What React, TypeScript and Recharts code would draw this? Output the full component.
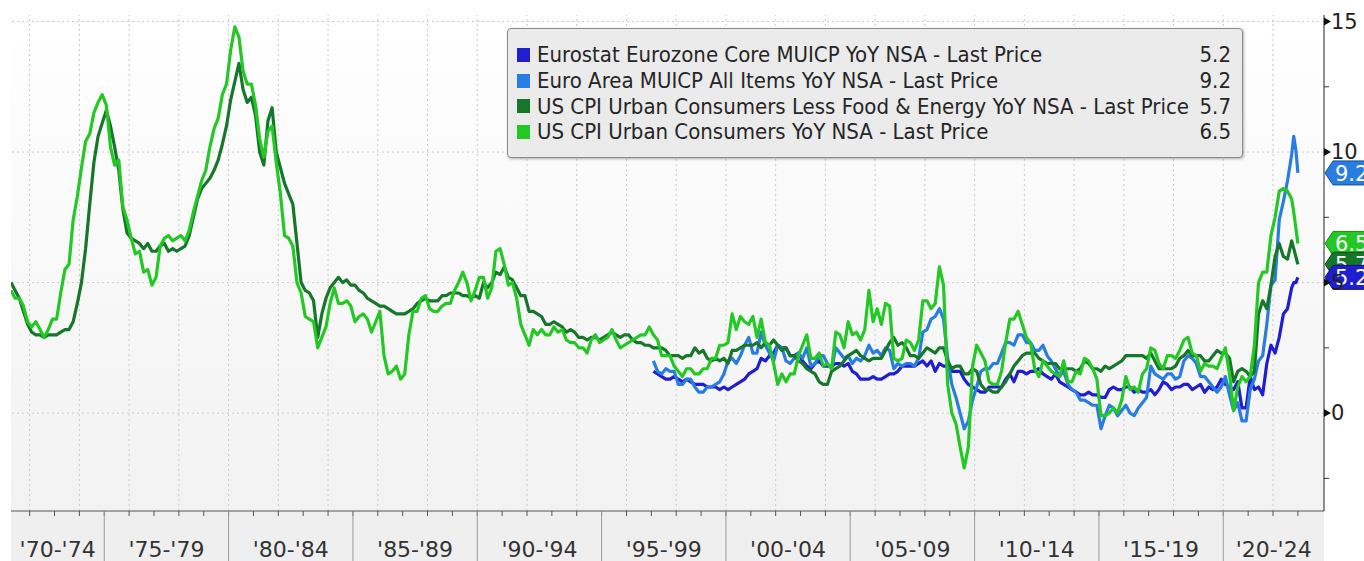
import React from "react";
import {
  CartesianGrid,
  Legend,
  Line,
  LineChart,
  ReferenceLine,
  XAxis,
  YAxis,
} from "recharts";

const FONT = '"DejaVu Sans Condensed", "DejaVu Sans", sans-serif';
const AXIS_FONT = '"DejaVu Sans", sans-serif';

// sampling: every other month, monthly at the very end
const firstYearMonths = [3, 5, 7, 9, 11];
const yearMonths = [1, 3, 5, 7, 9, 11];
const lastYearMonths = [1, 3, 5, 7, 9, 10, 11, 12];

const dates: number[] = [];
for (let y = 1971; y <= 2022; y++) {
  const ms = y === 1971 ? firstYearMonths : y === 2022 ? lastYearMonths : yearMonths;
  for (const m of ms) dates.push(y + m / 12);
}

// US CPI Urban Consumers YoY, Mar 1971 - Dec 2022
const usCpi = [
  4.7, 4.4, 4.4, 4.1, 3.5,
  3.3, 3.5, 3.2, 2.9, 3.2, 3.6,
  3.6, 4.6, 5.5, 5.7, 7.4, 8.3,
  9.4, 10.4, 10.7, 11.5, 11.9, 12.2,
  11.8, 10.2, 9.5, 9.7, 7.9, 7.4,
  6.7, 6.1, 6.2, 5.4, 5.5, 4.9,
  5.2, 6.4, 6.7, 6.8, 6.6, 6.7,
  6.8, 6.6, 7.0, 7.7, 8.3, 8.9,
  9.3, 10.2, 10.9, 11.3, 12.2, 12.6,
  13.9, 14.8, 14.4, 13.1, 12.6, 12.6,
  11.8, 10.5, 9.8, 10.8, 11.0, 9.6,
  8.4, 6.8, 6.7, 6.4, 5.0, 4.6,
  3.7, 3.6, 3.5, 2.5, 2.9, 3.3,
  4.2, 4.8, 4.2, 4.2, 4.3, 4.1,
  3.5, 3.7, 3.8, 3.6, 3.1, 3.5,
  3.9, 2.2, 1.5, 1.6, 1.8, 1.3,
  1.5, 3.0, 3.9, 3.9, 4.4, 4.5,
  4.0, 3.9, 3.9, 4.1, 4.2, 4.2,
  4.7, 5.0, 5.4, 5.0, 4.3, 4.7,
  5.2, 5.2, 4.4, 4.8, 6.2, 6.3,
  5.7, 4.9, 5.0, 4.4, 3.4, 3.0,
  2.6, 3.2, 3.0, 3.2, 3.0, 3.0,
  3.3, 3.1, 3.2, 2.8, 2.7, 2.7,
  2.5, 2.5, 2.3, 2.8, 3.0, 2.7,
  2.8, 2.9, 3.2, 2.8, 2.5, 2.6,
  2.7, 2.8, 2.9, 3.0, 3.0, 3.3,
  3.0, 2.8, 2.2, 2.2, 2.2, 1.8,
  1.6, 1.4, 1.7, 1.7, 1.5, 1.5,
  1.7, 1.7, 2.1, 2.1, 2.6, 2.6,
  2.7, 3.8, 3.2, 3.7, 3.5, 3.4,
  3.7, 2.9, 3.6, 2.7, 2.6, 1.9,
  1.1, 1.5, 1.2, 1.5, 1.5, 2.2,
  2.6, 3.0, 2.1, 2.1, 2.3, 1.8,
  1.9, 1.7, 3.1, 3.0, 2.5, 3.5,
  3.0, 3.1, 2.8, 3.2, 4.7, 3.5,
  4.0, 3.4, 4.2, 4.1, 2.1, 2.0,
  2.1, 2.8, 2.7, 2.4, 2.8, 4.3,
  4.3, 4.0, 4.2, 5.6, 4.9, 1.1,
  0.0, -0.4, -1.3, -2.1, -1.3, 1.8,
  2.6, 2.3, 2.0, 1.2, 1.1, 1.1,
  1.6, 2.7, 3.6, 3.6, 3.9, 3.4,
  2.9, 2.7, 1.7, 1.4, 2.0, 1.8,
  1.6, 1.5, 1.4, 2.0, 1.2, 1.2,
  1.6, 1.5, 2.1, 2.0, 1.7, 1.3,
  -0.1, -0.1, 0.0, 0.2, 0.0, 0.5,
  1.4, 0.9, 1.0, 0.8, 1.5, 1.7,
  2.5, 2.4, 1.9, 1.7, 2.2, 2.2,
  2.1, 2.4, 2.8, 2.9, 2.3, 2.2,
  1.6, 1.9, 1.8, 1.8, 1.7, 2.1,
  2.5, 1.5, 0.1, 1.0, 1.4, 1.2,
  1.4, 2.6, 5.0, 5.4, 5.4, 6.8,
  7.5, 8.5, 8.6, 8.5, 8.2, 7.7, 7.1, 6.5,
];

// US CPI Less Food & Energy YoY, Mar 1971 - Dec 2022
const usCore = [
  5.0, 4.7, 4.4, 3.9, 3.4,
  3.1, 3.0, 3.0, 2.9, 3.0, 3.0,
  3.0, 3.1, 3.2, 3.2, 3.5, 4.2,
  5.0, 6.3, 8.0, 9.6, 10.6, 11.1,
  11.6, 11.0, 10.2, 9.3, 7.8, 6.9,
  6.7, 6.6, 6.5, 6.3, 6.5, 6.2,
  6.2, 6.4, 6.5, 6.2, 6.3, 6.2,
  6.3, 6.4, 6.8, 7.5, 8.2, 8.6,
  8.8, 9.0, 9.3, 9.7, 10.3, 11.0,
  12.0, 12.7, 13.4, 12.4, 11.9, 12.1,
  11.4, 10.0, 9.5, 11.2, 11.7, 10.0,
  9.4, 8.8, 8.4, 8.0, 6.5, 5.0,
  4.7, 4.6, 4.3, 2.9, 3.8, 4.4,
  4.8, 5.0, 5.2, 5.0, 5.1, 4.9,
  4.9, 4.7, 4.6, 4.4, 4.3, 4.2,
  4.1, 4.1, 4.0, 3.9, 3.8, 3.8,
  3.8, 3.9, 4.0, 4.2, 4.3, 4.4,
  4.3, 4.3, 4.3, 4.5, 4.5, 4.6,
  4.6, 4.6, 4.5, 4.5, 4.4, 4.5,
  4.4, 5.0, 4.8, 5.0, 5.4, 5.3,
  5.6, 5.2, 5.1, 4.8, 4.5, 4.5,
  3.9, 3.9, 3.8, 3.7, 3.4, 3.4,
  3.5, 3.4, 3.3, 3.1, 3.2, 3.1,
  2.9, 2.9, 2.8, 2.9, 2.9, 2.8,
  2.9, 3.0, 3.1, 3.0, 2.9, 3.0,
  3.0, 2.8, 2.7, 2.7, 2.6, 2.6,
  2.5, 2.5, 2.5, 2.4, 2.2, 2.2,
  2.2, 2.1, 2.2, 2.2, 2.5, 2.3,
  2.4, 2.1, 2.0, 2.1, 2.0, 2.1,
  1.9, 2.4, 2.4, 2.5, 2.6, 2.6,
  2.6, 2.7, 2.5, 2.7, 2.6, 2.8,
  2.6, 2.4, 2.5, 2.2, 2.2, 2.0,
  1.9, 1.7, 1.6, 1.5, 1.2, 1.1,
  1.1, 1.6, 1.7, 1.8, 2.0, 2.2,
  2.3, 2.4, 2.2, 2.1, 2.0, 2.1,
  2.1, 2.1, 2.4, 2.7, 2.9, 2.6,
  2.7, 2.5, 2.2, 2.2, 2.1, 2.3,
  2.5, 2.4, 2.3, 2.5, 2.5, 2.0,
  1.7, 1.8, 1.8, 1.5, 1.5, 1.7,
  1.6, 1.1, 0.9, 0.9, 0.8, 0.8,
  1.0, 1.2, 1.5, 1.8, 2.0, 2.2,
  2.3, 2.3, 2.3, 2.1, 2.0, 1.9,
  1.9, 1.9, 1.7, 1.7, 1.7, 1.7,
  1.6, 1.7, 2.0, 1.9, 1.7, 1.7,
  1.6, 1.8, 1.7, 1.8, 1.9, 2.0,
  2.2, 2.2, 2.2, 2.2, 2.2, 2.1,
  2.3, 2.0, 1.7, 1.7, 1.7, 1.7,
  1.8, 2.1, 2.2, 2.4, 2.2, 2.2,
  2.2, 2.0, 2.0, 2.2, 2.4, 2.3,
  2.3, 2.1, 1.2, 1.6, 1.7, 1.6,
  1.4, 1.6, 3.8, 4.3, 4.0, 4.9,
  6.0, 6.5, 6.0, 5.9, 6.6, 6.3, 6.0, 5.7,
];

// Euro Area MUICP All Items YoY, Jan 1997 - Dec 2022
const euroAll = [
  2.0, 1.6, 1.5, 1.7, 1.6, 1.6,
  1.1, 1.1, 1.3, 1.3, 1.0, 0.8,
  0.8, 1.0, 1.0, 1.1, 1.2, 1.5,
  2.0, 2.1, 1.9, 2.2, 2.6, 2.9,
  2.3, 2.3, 3.1, 2.6, 2.3, 2.0,
  2.6, 2.5, 2.0, 1.9, 2.1, 2.3,
  2.1, 2.5, 1.8, 1.9, 2.2, 2.2,
  1.9, 1.7, 2.5, 2.3, 2.1, 2.2,
  1.9, 2.1, 2.0, 2.2, 2.6, 2.3,
  2.4, 2.2, 2.5, 2.4, 1.7, 1.9,
  1.8, 1.9, 1.9, 1.8, 2.1, 3.1,
  3.2, 3.6, 3.7, 4.0, 3.6, 2.1,
  1.1, 0.6, 0.0, -0.6, -0.3, 0.5,
  1.0, 1.6, 1.7, 1.7, 1.9, 1.9,
  2.3, 2.7, 2.7, 2.6, 3.0, 3.0,
  2.7, 2.7, 2.4, 2.4, 2.6, 2.2,
  2.0, 1.7, 1.4, 1.6, 1.1, 0.9,
  0.8, 0.5, 0.5, 0.4, 0.3, 0.3,
  -0.6, -0.1, 0.3, 0.2, -0.1, 0.1,
  0.3, 0.0, -0.1, 0.2, 0.4, 0.6,
  1.8, 1.5, 1.4, 1.3, 1.5, 1.5,
  1.3, 1.4, 2.0, 2.2, 2.1, 1.9,
  1.4, 1.4, 1.2, 1.0, 0.8, 1.0,
  1.4, 0.7, 0.1, 0.4, -0.3, -0.3,
  0.9, 1.3, 2.0, 2.2, 3.4, 4.9,
  5.1, 7.4, 8.1, 8.9, 9.9, 10.6, 10.1, 9.2,
];

// Eurostat Eurozone Core MUICP YoY, Jan 1997 - Dec 2022
const euroCore = [
  1.6, 1.5, 1.4, 1.3, 1.3, 1.4,
  1.3, 1.2, 1.3, 1.2, 1.1, 1.1,
  1.1, 1.0, 1.0, 1.0, 0.9, 1.0,
  0.9, 1.0, 1.1, 1.2, 1.3, 1.5,
  1.6, 1.7, 2.1, 2.0, 2.2, 2.3,
  2.6, 2.5, 2.5, 2.2, 2.2, 2.3,
  2.0, 1.8, 1.7, 1.9, 2.0, 1.8,
  1.8, 1.8, 1.9, 1.9, 1.8, 1.9,
  1.6, 1.5, 1.3, 1.3, 1.3, 1.4,
  1.3, 1.3, 1.4, 1.5, 1.5, 1.6,
  1.8, 1.8, 1.8, 1.8, 1.9, 2.0,
  1.8, 2.0, 1.6, 1.9, 1.8, 1.8,
  1.6, 1.6, 1.6, 1.3, 1.1, 1.0,
  0.9, 0.8, 0.8, 1.0, 1.0, 1.0,
  1.0, 1.3, 1.5, 1.2, 1.6, 1.6,
  1.5, 1.6, 1.6, 1.7, 1.5, 1.4,
  1.3, 1.5, 1.2, 1.1, 1.0, 0.9,
  0.8, 0.7, 0.7, 0.8, 0.7, 0.7,
  0.6, 0.6, 0.9, 1.0, 0.9, 0.9,
  1.0, 1.0, 0.8, 0.9, 0.8, 0.8,
  0.9, 0.7, 0.9, 1.2, 1.1, 0.9,
  1.0, 1.0, 1.1, 1.1, 0.9, 1.0,
  1.1, 0.8, 1.0, 0.9, 1.0, 1.3,
  1.1, 1.0, 0.9, 1.2, 0.2, 0.2,
  1.4, 0.9, 1.0, 0.7, 1.9, 2.6,
  2.3, 2.9, 3.8, 4.0, 4.8, 5.0, 5.0, 5.2,
];

const euroStart = dates.findIndex((d) => d > 1997 && d < 1997.1);

const series = [
  { key: "euroCore", name: "Eurostat Eurozone Core MUICP YoY NSA - Last Price", color: "#1f1fd0", edge: "#10107a", values: euroCore, offset: euroStart },
  { key: "euroAll", name: "Euro Area MUICP All Items YoY NSA - Last Price", color: "#2a7de0", edge: "#15508f", values: euroAll, offset: euroStart },
  { key: "usCore", name: "US CPI Urban Consumers Less Food & Energy YoY NSA - Last Price", color: "#16772a", edge: "#0b4a17", values: usCore, offset: 0 },
  { key: "usCpi", name: "US CPI Urban Consumers YoY NSA - Last Price", color: "#24c824", edge: "#178a17", values: usCpi, offset: 0 },
];

const data = dates.map((t, i) => {
  const row: Record<string, number | null> = { t };
  for (const s of series) {
    const j = i - s.offset;
    row[s.key] = j >= 0 && j < s.values.length ? s.values[j] : null;
  }
  return row;
});

const X_MIN = 1971.25;
const X_MAX = 2024.05;
const Y_MIN = -3.75;
const Y_MAX = 15.25;

const periodStarts = [1970, 1975, 1980, 1985, 1990, 1995, 2000, 2005, 2010, 2015, 2020];
const periodLabels = ["'70-'74", "'75-'79", "'80-'84", "'85-'89", "'90-'94", "'95-'99", "'00-'04", "'05-'09", "'10-'14", "'15-'19", "'20-'24"];
const periodCenters = periodStarts.map(
  (s) => (Math.max(s, X_MIN) + Math.min(s + 5, X_MAX)) / 2,
);
const yearTicks = Array.from({ length: 52 }, (_, i) => 1972 + i);
const gridYears = yearTicks.filter((y) => y % 2 === 0);
const gridValues = [0, 5, 10, 15];
const yTicks = [-2.5, 0, 2.5, 5, 7.5, 10, 12.5, 15];

function XTick(props: any) {
  const { x, y, payload } = props;
  const v = payload.value as number;
  const li = periodCenters.indexOf(v);
  if (li >= 0) {
    return (
      <text x={x} y={y + 38} textAnchor="middle" dominantBaseline="central" fontSize={22} fill="#333" fontFamily={AXIS_FONT}>
        {periodLabels[li]}
      </text>
    );
  }
  return (
    <g>
      <line x1={x} x2={x} y1={y} y2={y + 5} stroke="#555" />
      {v % 5 === 0 && <line x1={x} x2={x} y1={y} y2={y + 50} stroke="#9c9c9c" />}
    </g>
  );
}

function YTick(props: any) {
  const { x, y, payload } = props;
  const v = payload.value as number;
  if (v % 5 !== 0) return <line x1={x} x2={x + 5} y1={y} y2={y} stroke="#333" />;
  return (
    <g>
      <polygon points={`${x},${y - 4} ${x + 7},${y} ${x},${y + 4}`} fill="#111" />
      <text x={x + 7} y={y} dominantBaseline="central" fontSize={21} fill="#222" fontFamily={AXIS_FONT}>
        {v}
      </text>
    </g>
  );
}

function PriceTag({ viewBox, text, color, edge }: any) {
  const x = viewBox.x + viewBox.width;
  const y = viewBox.y;
  return (
    <g>
      <polygon
        points={`${x + 1},${y} ${x + 9},${y - 12} ${x + 70},${y - 12} ${x + 70},${y + 12} ${x + 9},${y + 12}`}
        fill={color}
        stroke={edge}
      />
      <text x={x + 11} y={y + 1} dominantBaseline="central" fontSize={21} fill="#fff" fontFamily={AXIS_FONT}>
        {text}
      </text>
    </g>
  );
}

function LegendBox() {
  return (
    <div
      style={{
        boxSizing: "border-box",
        width: 736,
        height: 130,
        padding: "13px 11px 0 9px",
        background: "#ebebeb",
        border: "1px solid #8c8c8c",
        borderRadius: 4,
        boxShadow: "1px 1px 3px rgba(0,0,0,0.3)",
        fontFamily: FONT,
        fontSize: 22,
        color: "#262626",
      }}
    >
      {series.map((s) => (
        <div key={s.key} style={{ display: "flex", alignItems: "center", height: 25.7, whiteSpace: "nowrap" }}>
          <span style={{ width: 13, height: 14, background: s.color, marginRight: 7, flex: "none" }} />
          <span style={{ flex: 1 }}>{s.name}</span>
          <span>{s.values[s.values.length - 1].toFixed(1)}</span>
        </div>
      ))}
    </div>
  );
}

const tagOrder = [...series].sort(
  (a, b) => b.values[b.values.length - 1] - a.values[a.values.length - 1],
);

export default function App() {
  return (
    <div style={{ position: "absolute", left: 0, top: 0, width: 1364, height: 561, background: "#fff", overflow: "hidden" }}>
      <div style={{ position: "absolute", left: 11, top: 511, width: 1313, height: 50, background: "#efefef" }} />
      <LineChart
        width={1364}
        height={561}
        data={data}
        margin={{ top: 15, right: 0, bottom: 0, left: 11 }}
        style={{ position: "absolute", left: 0, top: 0 }}
      >
        <defs>
          <linearGradient id="plotBg" x1="0" y1="0" x2="0" y2="1">
            <stop offset="0" stopColor="#ffffff" />
            <stop offset="1" stopColor="#f2f2f2" />
          </linearGradient>
        </defs>
        <CartesianGrid horizontal={false} vertical={false} fill="url(#plotBg)" />
        {gridYears.map((yr) => (
          <ReferenceLine key={`gx${yr}`} x={yr} stroke="#cacaca" strokeDasharray="2 3" />
        ))}
        {gridValues.map((v) => (
          <ReferenceLine key={`gy${v}`} y={v} stroke="#cacaca" strokeDasharray="2 3" />
        ))}
        <XAxis
          dataKey="t"
          type="number"
          domain={[X_MIN, X_MAX]}
          allowDataOverflow
          ticks={[...yearTicks, ...periodCenters]}
          interval={0}
          tick={<XTick />}
          tickLine={false}
          tickSize={0}
          tickMargin={0}
          axisLine={{ stroke: "#555" }}
          height={50}
        />
        <YAxis
          orientation="right"
          type="number"
          domain={[Y_MIN, Y_MAX]}
          allowDataOverflow
          ticks={yTicks}
          interval={0}
          tick={<YTick />}
          tickLine={false}
          tickSize={0}
          tickMargin={0}
          axisLine={{ stroke: "#222" }}
          width={40}
        />
        {series.map((s) => (
          <Line
            key={s.key}
            dataKey={s.key}
            name={s.name}
            stroke={s.color}
            strokeWidth={3.2}
            dot={false}
            activeDot={false}
            isAnimationActive={false}
            connectNulls={false}
            strokeLinejoin="round"
          />
        ))}
        {tagOrder.map((s) => {
          const last = s.values[s.values.length - 1];
          return (
            <ReferenceLine
              key={`tag-${s.key}`}
              y={last}
              stroke="none"
              ifOverflow="visible"
              label={(p: any) => <PriceTag viewBox={p.viewBox} text={last.toFixed(1)} color={s.color} edge={s.edge} />}
            />
          );
        })}
        <Legend
          layout="vertical"
          align="center"
          verticalAlign="middle"
          wrapperStyle={{ left: 507, top: 28, width: 736 }}
          content={() => <LegendBox />}
        />
      </LineChart>
    </div>
  );
}
